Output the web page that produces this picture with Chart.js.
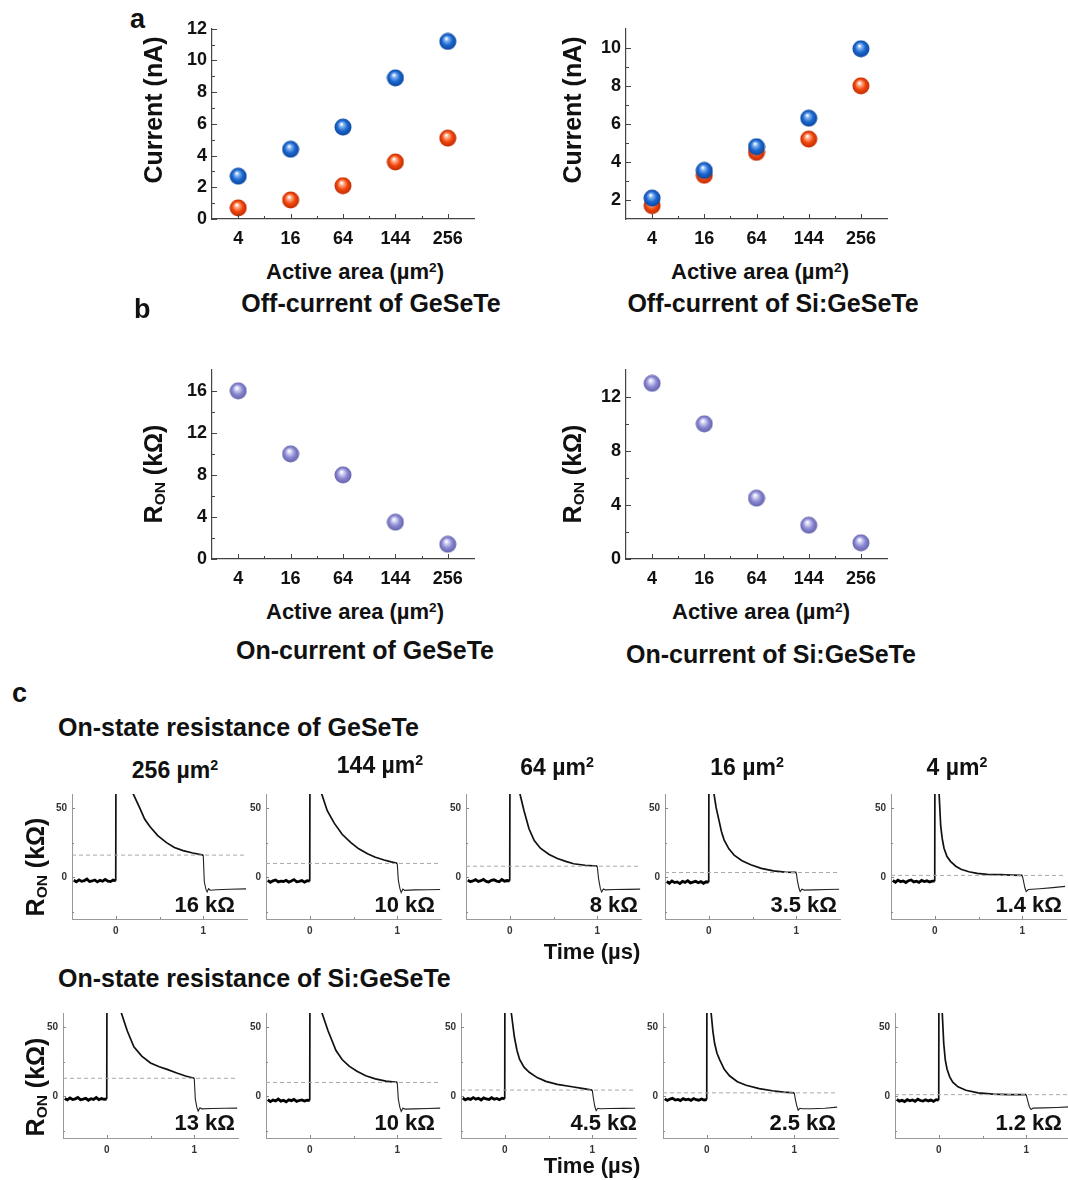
<!DOCTYPE html>
<html>
<head>
<meta charset="utf-8">
<title>GeSeTe / Si:GeSeTe device characteristics</title>
<script src="https://cdn.jsdelivr.net/npm/chart.js@4.4.1/dist/chart.umd.min.js"></script>
<style>
  body { margin: 0; background: #fff; }
  #page { position: relative; width: 1068px; height: 1180px; overflow: hidden;
          font-family: "Liberation Sans", Arial, sans-serif; font-weight: bold; color: #111; }
  #page canvas { position: absolute; }
  .lbl { position: absolute; white-space: nowrap; line-height: 1; }
  sup, sub { font-size: 0.62em; line-height: 0; position: relative; vertical-align: 0; }
  sup { top: -0.55em; }
  sub { top: 0.22em; }
</style>
</head>
<body>
<div id="page"></div>
<script>
// ---- panel a / b : values per active area ----
const areas = ['4', '16', '64', '144', '256'];
const offGstBlue = [2.7, 4.4, 5.8, 8.9, 11.2];
const offGstRed = [0.7, 1.2, 2.1, 3.6, 5.1];
const offSiBlue = [2.1, 3.55, 4.8, 6.3, 9.95];
const offSiRed = [1.7, 3.3, 4.5, 5.2, 8.0];
const ronGst = [16, 10, 8, 3.5, 1.4];
const ronSi = [13, 10, 4.5, 2.5, 1.2];

// ---- panel c : transient traces (time in µs, R in kΩ) ----
const traceAreas = ['256', '144', '64', '16', '4'];
const gstLevels = [16, 10, 8, 3.5, 1.4];
const siLevels = [13, 10, 4.5, 2.5, 1.2];

// sampling times of the pre-pulse baseline
const baseT = [-0.48, -0.45, -0.42, -0.39, -0.36, -0.33, -0.30, -0.27, -0.24, -0.21, -0.18, -0.15, -0.12, -0.09, -0.06, -0.03, 0];

const gstBase = [
  [-2.1, -3.2, -1.8, -2.9, -2.4, -1.2, -3.0, -2.6, -1.9, -3.3, -2.2, -2.8, -1.5, -2.7, -3.1, -2.0, -2.5],
  [-2.2, -3.6, -2.5, -1.9, -3.3, -2.7, -3.0, -2.1, -3.4, -2.6, -1.6, -3.2, -2.9, -2.3, -3.5, -2.4, -2.8],
  [-2.0, -3.1, -2.6, -1.7, -3.0, -2.4, -1.5, -2.9, -3.3, -2.2, -1.8, -2.7, -3.2, -1.6, -2.8, -2.3, -2.5],
  [-3.0, -4.2, -2.6, -3.8, -3.3, -4.5, -2.9, -3.6, -2.4, -4.0, -3.4, -2.8, -3.9, -3.1, -4.3, -3.2, -3.5],
  [-2.3, -3.5, -2.0, -3.1, -2.6, -3.7, -2.4, -1.9, -3.3, -2.8, -3.6, -2.2, -3.0, -2.5, -3.4, -2.7, -2.8]
];
const siBase = [
  [-1.5, -2.6, -1.2, -2.3, -1.8, -0.8, -2.5, -2.0, -1.4, -2.8, -1.7, -2.2, -0.9, -2.4, -1.6, -2.1, -2.0],
  [-2.4, -3.8, -2.7, -3.3, -2.0, -3.5, -2.9, -3.9, -2.5, -3.1, -2.2, -3.6, -3.0, -2.6, -3.4, -2.8, -3.0],
  [-1.2, -2.5, -1.6, -2.2, -0.9, -2.0, -1.4, -2.6, -1.1, -1.9, -2.3, -1.0, -2.1, -1.5, -2.4, -1.3, -1.8],
  [-1.8, -3.0, -2.0, -1.4, -2.7, -2.2, -3.1, -1.7, -2.5, -2.0, -2.9, -1.6, -2.4, -2.8, -1.9, -2.6, -2.3],
  [-2.2, -3.5, -2.9, -3.8, -2.4, -3.2, -2.6, -3.6, -2.1, -3.0, -3.4, -2.5, -3.3, -2.7, -3.6, -2.4, -2.8]
];

// rising edge at t = 0 and the decay during the pulse
const gstPulse = [
  [[0, -2.5], [0.004, 140], [0.12, 85], [0.2, 60], [0.27, 50.5], [0.33, 42], [0.39, 36.6], [0.48, 30], [0.58, 25], [0.67, 21.5], [0.77, 19.2], [0.88, 17.5], [1.0, 16]],
  [[0, -2.8], [0.004, 140], [0.09, 85], [0.137, 60], [0.2, 48], [0.28, 39], [0.37, 31], [0.47, 25], [0.56, 20.5], [0.66, 17], [0.75, 14.5], [0.85, 12.5], [0.93, 11.1], [1.0, 10]],
  [[0, -2.5], [0.004, 140], [0.08, 85], [0.117, 60], [0.163, 48], [0.22, 35], [0.28, 26.5], [0.35, 21], [0.45, 16.5], [0.545, 13.5], [0.64, 11.5], [0.73, 9.8], [0.86, 8.7], [1.0, 8]],
  [[0, -3.5], [0.003, 140], [0.04, 85], [0.06, 60], [0.085, 50], [0.117, 41], [0.145, 33], [0.175, 27], [0.23, 20.5], [0.29, 16], [0.38, 12], [0.48, 9], [0.6, 6.5], [0.74, 4.6], [0.87, 3.8], [1.0, 3.5]],
  [[0, -2.8], [0.003, 140], [0.035, 85], [0.05, 60], [0.068, 37], [0.085, 28], [0.106, 21], [0.14, 15], [0.18, 11.5], [0.24, 8], [0.3, 5.8], [0.39, 4], [0.485, 2.8], [0.6, 2.2], [0.75, 1.9], [0.88, 1.6], [1.0, 1.4]]
];
const siPulse = [
  [[0, -2.0], [0.004, 140], [0.1, 85], [0.167, 60], [0.235, 47], [0.31, 35.6], [0.4, 29], [0.5, 24], [0.6, 21.3], [0.69, 19.4], [0.8, 16.8], [0.9, 14.6], [1.0, 13]],
  [[0, -3.0], [0.004, 140], [0.09, 85], [0.14, 60], [0.21, 47], [0.3, 33], [0.37, 26.5], [0.45, 21.7], [0.54, 18], [0.64, 14.8], [0.75, 12.6], [0.87, 11], [1.0, 10]],
  [[0, -1.8], [0.003, 140], [0.05, 85], [0.075, 60], [0.11, 42.7], [0.14, 33], [0.17, 26.5], [0.22, 21], [0.28, 17.3], [0.37, 13.5], [0.47, 10.8], [0.6, 8.6], [0.77, 6.9], [0.9, 5.5], [1.0, 4.5]],
  [[0, -2.3], [0.003, 140], [0.035, 85], [0.05, 60], [0.07, 47], [0.09, 38], [0.117, 31], [0.147, 26.5], [0.2, 19.5], [0.26, 14.8], [0.35, 10.5], [0.45, 8], [0.6, 5.6], [0.75, 4], [0.88, 3], [1.0, 2.5]],
  [[0, -2.8], [0.003, 140], [0.028, 85], [0.04, 60], [0.057, 38], [0.075, 26], [0.095, 19.5], [0.125, 14], [0.16, 10.2], [0.22, 6.8], [0.31, 4.4], [0.45, 2.5], [0.62, 1.6], [0.8, 1.3], [1.0, 1.2]]
];

// falling edge at t = 1 and the settling afterwards
const gstTail = [
  [[1.0, 16], [1.012, -3], [1.03, -8.5], [1.045, -10.5], [1.06, -8.2], [1.08, -9.3], [1.15, -8.9], [1.3, -8.6], [1.49, -8.3]],
  [[1.0, 10], [1.012, -2], [1.03, -8], [1.045, -11], [1.065, -8.4], [1.085, -9.4], [1.2, -9], [1.35, -8.9], [1.49, -8.8]],
  [[1.0, 8], [1.015, -1], [1.035, -8], [1.05, -10.5], [1.07, -8.4], [1.09, -9], [1.2, -8.8], [1.35, -8.7], [1.49, -8.5]],
  [[1.0, 3.5], [1.012, -2], [1.03, -7.5], [1.045, -10.3], [1.065, -8.6], [1.09, -9.2], [1.2, -9], [1.35, -8.8], [1.49, -8.6]],
  [[1.0, 1.4], [1.012, -2], [1.03, -7.5], [1.045, -10.2], [1.07, -8.8], [1.2, -8.2], [1.35, -7.4], [1.49, -6.5]]
];
const siTail = [
  [[1.0, 13], [1.012, -2], [1.03, -8], [1.045, -10.6], [1.065, -8.2], [1.085, -9], [1.2, -8.8], [1.35, -8.6], [1.49, -8.5]],
  [[1.0, 10], [1.012, -2], [1.03, -8], [1.045, -10.8], [1.065, -8.5], [1.09, -9.2], [1.2, -9], [1.35, -8.8], [1.49, -8.5]],
  [[1.0, 4.5], [1.012, -1], [1.03, -7.5], [1.045, -10.2], [1.065, -8.6], [1.09, -8.9], [1.2, -8.8], [1.35, -8.7], [1.49, -8.6]],
  [[1.0, 2.5], [1.012, -2], [1.03, -7], [1.045, -10], [1.065, -8.6], [1.09, -8.9], [1.2, -8.9], [1.35, -8.6], [1.49, -7.8]],
  [[1.0, 1.2], [1.012, -2], [1.035, -7.5], [1.055, -9.5], [1.08, -8.5], [1.2, -8.3], [1.35, -8.0], [1.49, -7.6]]
];

Chart.defaults.font.family = '"Liberation Sans", Arial, sans-serif';
Chart.defaults.font.weight = 'bold';

const page = document.getElementById('page');

function addText(html, x, y, size, anchor = 'center', rotate = false) {
  const d = document.createElement('div');
  d.className = 'lbl';
  d.innerHTML = html;
  d.style.left = x + 'px';
  d.style.top = y + 'px';
  d.style.fontSize = size + 'px';
  const tx = anchor === 'left' ? '0' : anchor === 'right' ? '-100%' : '-50%';
  d.style.transform = `translate(${tx}, -50%)` + (rotate ? ' rotate(-90deg)' : '');
  page.appendChild(d);
}

// canvas sized so the chart area lands exactly on box
function makeCanvas(box, pad) {
  const c = document.createElement('canvas');
  const w = box.r - box.l + pad.l + pad.r;
  const h = box.b - box.t + pad.t + pad.b;
  c.width = w;
  c.height = h;
  c.style.left = (box.l - pad.l) + 'px';
  c.style.top = (box.t - pad.t) + 'px';
  c.style.width = w + 'px';
  c.style.height = h + 'px';
  page.appendChild(c);
  return c;
}

// shaded ball used as point style
function ball(light, base, dark) {
  const s = 18, c = document.createElement('canvas');
  c.width = s; c.height = s;
  const g = c.getContext('2d');
  const grad = g.createRadialGradient(s / 2 - 1.5, s / 2 - 3, 0.5, s / 2, s / 2, s / 2);
  grad.addColorStop(0, '#ffffff');
  grad.addColorStop(0.18, light);
  grad.addColorStop(0.55, base);
  grad.addColorStop(1, dark);
  g.fillStyle = grad;
  g.beginPath();
  g.arc(s / 2, s / 2, s / 2 - 0.5, 0, Math.PI * 2);
  g.fill();
  return c;
}
const blueBall = ball('#8ab8f2', '#1b68d0', '#0b4298');
const redBall = ball('#ffb493', '#f2470e', '#b82800');
const purpleBall = ball('#d6d5f5', '#8a88d0', '#5f5da8');

// tick marks drawn on the inner side of the axes
const innerTicks = {
  id: 'innerTicks',
  afterDatasetsDraw(chart, args, opts) {
    const { ctx, chartArea: a, scales } = chart;
    ctx.save();
    ctx.strokeStyle = opts.color;
    ctx.lineWidth = 1;
    const draw = (scale, values, len) => {
      (values || []).forEach(v => {
        const p = Math.round(scale.getPixelForValue(v)) + 0.5;
        ctx.beginPath();
        if (scale.isHorizontal()) { ctx.moveTo(p, a.bottom); ctx.lineTo(p, a.bottom - len); }
        else { ctx.moveTo(a.left, p); ctx.lineTo(a.left + len, p); }
        ctx.stroke();
      });
    };
    draw(scales.x, opts.xMajor, opts.major);
    draw(scales.x, opts.xMinor, opts.minor);
    draw(scales.y, opts.yMajor, opts.major);
    draw(scales.y, opts.yMinor, opts.minor);
    ctx.restore();
  }
};

function scatterPanel(box, yMin, yMax, yLabels, yMinor, series) {
  const pad = { l: 46, t: 14, r: 14, b: 36 };
  const canvas = makeCanvas(box, pad);
  const tickFont = { size: 18, weight: 'bold' };
  return new Chart(canvas, {
    type: 'scatter',
    data: {
      datasets: series.map(s => ({
        data: s.values.map((v, i) => ({ x: i, y: v })),
        pointStyle: s.style,
        pointRadius: 8,
        pointHoverRadius: 8,
        clip: false
      }))
    },
    options: {
      responsive: false,
      animation: false,
      events: [],
      layout: { padding: { top: pad.t, right: pad.r, left: 0, bottom: 0 } },
      plugins: {
        legend: { display: false },
        tooltip: { enabled: false },
        innerTicks: {
          color: '#444', major: 5, minor: 3,
          xMajor: [0, 1, 2, 3, 4], xMinor: [0.5, 1.5, 2.5, 3.5],
          yMajor: yLabels, yMinor: yMinor
        }
      },
      scales: {
        x: {
          type: 'linear', min: -0.5, max: 4.5,
          afterBuildTicks: ax => { ax.ticks = areas.map((_, i) => ({ value: i })); },
          afterFit: ax => { ax.height = pad.b; },
          grid: { display: false, drawTicks: false },
          border: { color: '#444', width: 1.2 },
          ticks: { padding: 9, color: '#111', font: tickFont, callback: v => areas[v] }
        },
        y: {
          min: yMin, max: yMax,
          afterBuildTicks: ax => { ax.ticks = yLabels.map(v => ({ value: v })); },
          afterFit: ax => { ax.width = pad.l; },
          grid: { display: false, drawTicks: false },
          border: { color: '#444', width: 1.2 },
          ticks: { padding: 5, color: '#111', font: tickFont }
        }
      }
    },
    plugins: [innerTicks]
  });
}

function tracePanel(box, base, pulse, tail, level) {
  const pad = { l: 26, t: 6, r: 4, b: 22 };
  const canvas = makeCanvas(box, pad);
  const line = (pts, width, color, dash) => ({
    data: pts.map(([x, y]) => ({ x, y })),
    showLine: true, pointRadius: 0, borderWidth: width,
    borderColor: color, borderDash: dash || [], clip: 0
  });
  const smallFont = { size: 10, weight: 'bold' };
  return new Chart(canvas, {
    type: 'scatter',
    data: {
      datasets: [
        line([[-0.5, level], [1.5, level]], 1, '#a8a8a8', [4, 3]),
        line(baseT.map((t, i) => [t, base[i]]), 2.8, '#000'),
        line(pulse, 1.7, '#111'),
        line(tail, 1.1, '#222')
      ]
    },
    options: {
      responsive: false,
      animation: false,
      events: [],
      layout: { padding: { top: pad.t, right: pad.r, left: 0, bottom: 0 } },
      plugins: {
        legend: { display: false },
        tooltip: { enabled: false },
        innerTicks: {
          color: '#888', major: 3, minor: 2,
          xMajor: [0, 1], xMinor: [0.5], yMajor: [0, 50], yMinor: [-25, 25]
        }
      },
      scales: {
        x: {
          type: 'linear', min: -0.5, max: 1.5,
          afterBuildTicks: ax => { ax.ticks = [{ value: 0 }, { value: 1 }]; },
          afterFit: ax => { ax.height = pad.b; },
          grid: { display: false, drawTicks: false },
          border: { color: '#999', width: 1 },
          ticks: { padding: 6, color: '#333', font: smallFont }
        },
        y: {
          min: -30, max: 60,
          afterBuildTicks: ax => { ax.ticks = [{ value: 0 }, { value: 50 }]; },
          afterFit: ax => { ax.width = pad.l; },
          grid: { display: false, drawTicks: false },
          border: { color: '#999', width: 1 },
          ticks: { padding: 5, color: '#333', font: smallFont }
        }
      }
    },
    plugins: [innerTicks]
  });
}

// ---- panel a : off-current ----
scatterPanel({ l: 212, r: 474, t: 27, b: 219 }, 0, 12, [0, 2, 4, 6, 8, 10, 12], [1, 3, 5, 7, 9, 11],
  [{ values: offGstBlue, style: blueBall }, { values: offGstRed, style: redBall }]);
scatterPanel({ l: 626, r: 887, t: 27, b: 219 }, 1, 11, [2, 4, 6, 8, 10], [3, 5, 7, 9],
  [{ values: offSiBlue, style: blueBall }, { values: offSiRed, style: redBall }]);

// ---- panel b : on-state resistance vs area ----
scatterPanel({ l: 212, r: 474, t: 368, b: 559 }, 0, 18, [0, 4, 8, 12, 16], [2, 6, 10, 14],
  [{ values: ronGst, style: purpleBall }]);
scatterPanel({ l: 626, r: 887, t: 368, b: 559 }, 0, 14, [0, 4, 8, 12], [2, 6, 10],
  [{ values: ronSi, style: purpleBall }]);

const areaTitle = 'Active area (µm<sup>2</sup>)';
addText('a', 130, 19, 27, 'left');
addText('Current (nA)', 153, 110, 25, 'center', true);
addText(areaTitle, 355, 272, 22);
addText('Off-current of GeSeTe', 371, 303, 25);
addText('Current (nA)', 572, 110, 25, 'center', true);
addText(areaTitle, 760, 272, 22);
addText('Off-current of Si:GeSeTe', 773, 303, 25);

addText('b', 134, 309, 27, 'left');
addText('R<sub>ON</sub> (kΩ)', 153, 474, 25, 'center', true);
addText(areaTitle, 355, 612, 22);
addText('On-current of GeSeTe', 365, 650, 25);
addText('R<sub>ON</sub> (kΩ)', 572, 474, 25, 'center', true);
addText(areaTitle, 761, 612, 22);
addText('On-current of Si:GeSeTe', 771, 654, 25);

// ---- panel c : transient on-state resistance ----
addText('c', 12, 693, 27, 'left');
addText('On-state resistance of GeSeTe', 58, 727, 25, 'left');
addText('On-state resistance of Si:GeSeTe', 58, 978, 25, 'left');

const gstLefts = [72, 266, 466, 665, 891];
const siLefts = [63, 266, 461, 663, 895];
const titleX = [175, 380, 557, 747, 957];
const titleY = [770, 765, 767, 767, 767];
const gstValueRight = [235, 435, 638, 837, 1062];
const siValueRight = [235, 435, 637, 836, 1062];

traceAreas.forEach((a, i) => {
  tracePanel({ l: gstLefts[i], r: gstLefts[i] + 175, t: 789, b: 919 }, gstBase[i], gstPulse[i], gstTail[i], gstLevels[i]);
  tracePanel({ l: siLefts[i], r: siLefts[i] + 175, t: 1008, b: 1138 }, siBase[i], siPulse[i], siTail[i], siLevels[i]);
  addText(`${a} µm<sup>2</sup>`, titleX[i], titleY[i], 23);
  addText(`${gstLevels[i]} kΩ`, gstValueRight[i], 905, 22, 'right');
  addText(`${siLevels[i]} kΩ`, siValueRight[i], 1123, 22, 'right');
});

addText('R<sub>ON</sub> (kΩ)', 35, 867, 25, 'center', true);
addText('R<sub>ON</sub> (kΩ)', 35, 1087, 25, 'center', true);
addText('Time (µs)', 592, 952, 22);
addText('Time (µs)', 592, 1166, 22);
</script>
</body>
</html>
